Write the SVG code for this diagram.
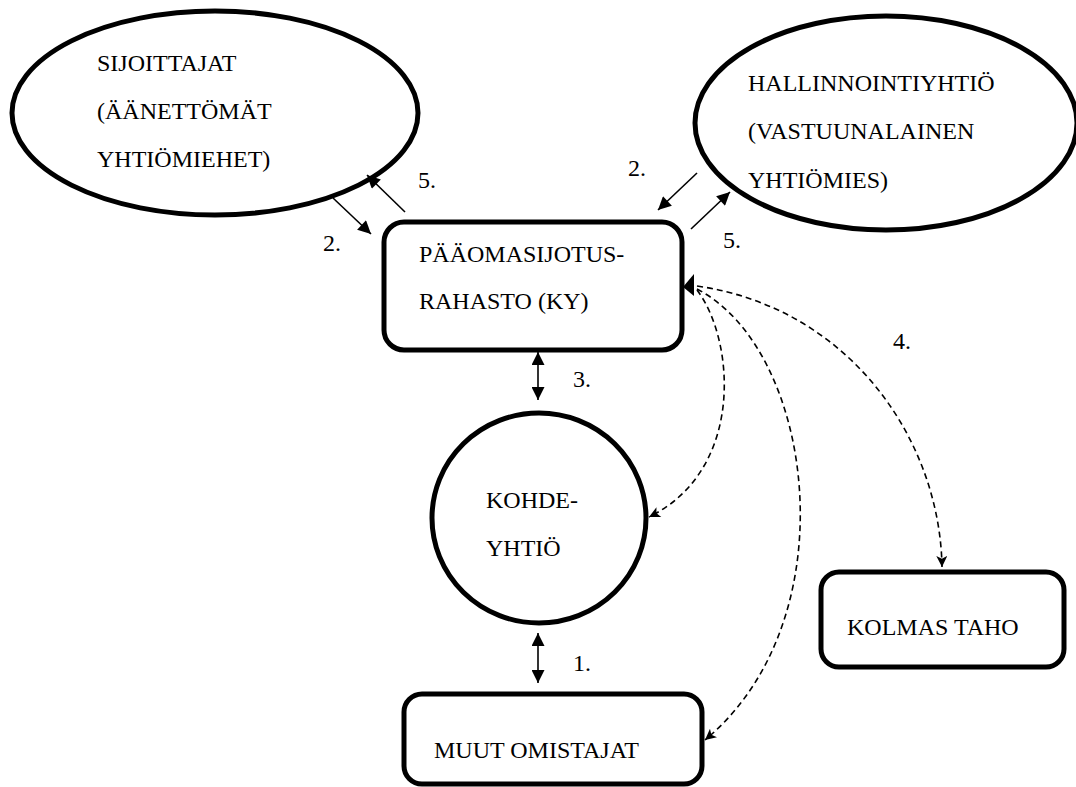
<svg xmlns="http://www.w3.org/2000/svg" width="1076" height="787" viewBox="0 0 1076 787">
<defs>
<style>
.node{fill:#fff;stroke:#000;stroke-width:5}
.t{font-size:24px;fill:#000}
.c{fill:none;stroke:#000;stroke-width:1.6}
.d{fill:none;stroke:#000;stroke-width:1.6;stroke-dasharray:6 4}
</style>
<marker id="ah" viewBox="0 0 10 10" refX="10" refY="5" markerUnits="userSpaceOnUse" markerWidth="15" markerHeight="13" orient="auto-start-reverse">
<path d="M0,0 L10,5 L0,10 Z" fill="#000"/>
</marker>
<marker id="ad" viewBox="0 0 10 10" refX="10" refY="5" markerUnits="userSpaceOnUse" markerWidth="13" markerHeight="11" orient="auto">
<path d="M0,0 L10,5 L0,10 L2.5,5 Z" fill="#000"/>
</marker>
</defs>
<rect width="1076" height="787" fill="#fff"/>
<g font-family="'Liberation Serif', 'DejaVu Serif', serif">
<g id="sijoittajat">
<ellipse class="node" cx="215" cy="113" rx="203" ry="102"/>
<text class="t" x="97" y="71">SIJOITTAJAT</text>
<text class="t" x="97" y="119">(ÄÄNETTÖMÄT</text>
<text class="t" x="97" y="167">YHTIÖMIEHET)</text>
</g>
<g id="hallinnointiyhtio">
<ellipse class="node" cx="886" cy="123" rx="191" ry="107"/>
<text class="t" x="748" y="91">HALLINNOINTIYHTIÖ</text>
<text class="t" x="748" y="139">(VASTUUNALAINEN</text>
<text class="t" x="748" y="188">YHTIÖMIES)</text>
</g>
<g id="rahasto">
<rect class="node" x="384" y="222" width="298" height="128" rx="20"/>
<text class="t" x="419" y="262">PÄÄOMASIJOTUS-</text>
<text class="t" x="419" y="309">RAHASTO (KY)</text>
</g>
<g id="kohdeyhtio">
<ellipse class="node" cx="539" cy="518" rx="107" ry="105"/>
<text class="t" x="486" y="508">KOHDE-</text>
<text class="t" x="486" y="556">YHTIÖ</text>
</g>
<g id="muut">
<rect class="node" x="404" y="694" width="298" height="90" rx="18"/>
<text class="t" x="434" y="758">MUUT OMISTAJAT</text>
</g>
<g id="kolmas">
<rect class="node" x="821" y="572" width="243" height="95" rx="18"/>
<text class="t" x="847" y="635">KOLMAS TAHO</text>
</g>
<g id="connectors">
<line class="c" x1="333" y1="198" x2="371" y2="234" marker-end="url(#ah)"/>
<line class="c" x1="405" y1="212" x2="367" y2="175" marker-end="url(#ah)"/>
<line class="c" x1="697" y1="173" x2="658" y2="210" marker-end="url(#ah)"/>
<line class="c" x1="691" y1="229" x2="730" y2="192" marker-end="url(#ah)"/>
<line class="c" x1="538" y1="352" x2="538" y2="400" marker-start="url(#ah)" marker-end="url(#ah)"/>
<line class="c" x1="538" y1="633" x2="538" y2="683" marker-start="url(#ah)" marker-end="url(#ah)"/>
<path class="d" d="M697,286 C850,308 940,440 942,567" marker-end="url(#ad)"/>
<path class="d" d="M697,290 C735,340 745,470 649,517" marker-end="url(#ad)"/>
<path class="d" d="M697,289 C815,350 850,620 705,740" marker-end="url(#ad)"/>
<path d="M683,287 L694,274 L694,296 Z" fill="#000"/>
<text class="t" x="323" y="251">2.</text>
<text class="t" x="418" y="188">5.</text>
<text class="t" x="628" y="176">2.</text>
<text class="t" x="723" y="248">5.</text>
<text class="t" x="573" y="387">3.</text>
<text class="t" x="573" y="671">1.</text>
<text class="t" x="893" y="349">4.</text>
</g>
</g>
</svg>
